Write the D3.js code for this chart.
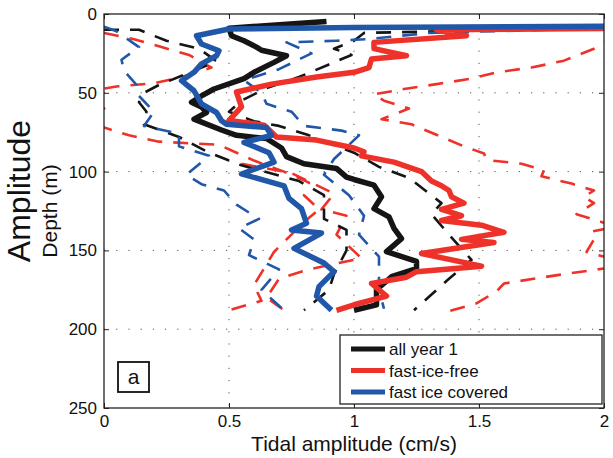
<!DOCTYPE html>
<html>
<head>
<meta charset="utf-8">
<script src="https://cdn.jsdelivr.net/npm/d3@7"></script>
<style>
body { margin: 0; background: #fff; }
text { font-family: "Liberation Sans", Arial, sans-serif; fill: #111; }
</style>
</head>
<body>
<svg width="613" height="458"></svg>
<script>
// tick labels
var xTicks = [0, 0.5, 1, 1.5, 2];
var yTicks = [0, 50, 100, 150, 200, 250];

// thick mean profiles, [amplitude cm/s, depth m]
var allYear = [[0.89,4.7],[0.50,9],[0.51,13.8],[0.56,17],[0.61,21],[0.63,23],[0.73,26.5],[0.68,30.7],[0.60,37],[0.56,41],
  [0.44,47.6],[0.39,52],[0.35,56],[0.39,59],[0.41,62.5],[0.36,66.7],[0.47,73.6],[0.53,77],[0.65,79],[0.71,85],
  [0.73,90.5],[0.80,95],[0.93,98],[0.97,103.5],[1.0,105],[1.08,108.6],[1.11,116],[1.08,123.5],[1.14,128.7],[1.16,136],
  [1.19,142.5],[1.13,150.8],[1.25,157],[1.25,161.5],[1.15,166.7],[1.09,175],[1.09,184.6],[1.0,188]];
var iceFree = [[2.5,8.5],[1.33,10],[1.45,13.8],[1.08,18],[1.08,22],[1.21,26.5],[1.07,28.5],[1.06,34],[1.0,37],[0.85,40],
  [0.67,44.5],[0.53,49.5],[0.55,59],[0.50,67.5],[0.64,70.5],[0.69,78],[0.85,80],[1.0,85],[1.04,87.4],[1.03,90],
  [1.16,94],[1.27,100],[1.31,106],[1.35,109],[1.38,112],[1.39,116],[1.44,120],[1.35,124],[1.43,128],[1.35,131],
  [1.51,134],[1.60,138.5],[1.43,143],[1.56,145],[1.27,152],[1.51,160],[1.25,163.5],[1.21,167],[1.07,171],[1.13,179],
  [1.0,184.5],[0.93,188]];
var iceCovered = [[2.5,7.5],[1.0,8.5],[0.50,9.5],[0.37,13.8],[0.39,19],[0.46,23.3],[0.45,26.5],[0.39,31.7],[0.36,37],[0.31,42.3],
  [0.36,48.7],[0.39,57],[0.45,62.5],[0.47,67.7],[0.49,70],[0.65,72],[0.67,77],[0.56,81.5],[0.66,88],[0.68,94],
  [0.55,101.5],[0.72,109],[0.74,117],[0.79,123.5],[0.81,132.8],[0.75,137],[0.87,139],[0.76,148.7],[0.88,158],[0.92,163.5],
  [0.86,173],[0.85,179],[0.91,188]];

// dashed individual profiles
var dashBlack = [
  [[0.0,10],[0.14,10],[0.25,17],[0.38,22],[0.45,30],[0.33,38],[0.22,45],[0.16,50],[0.14,56],[0.17,62],[0.16,70],[0.3,78],
   [0.42,88],[0.55,96],[0.78,106],[0.88,115],[0.88,130],[0.97,137],[0.97,150],[0.92,165],[0.9,175],[0.8,188]],
  [[2.5,7],[1.04,12],[1.0,17],[0.92,22],[0.99,26],[0.9,32],[0.78,40],[0.65,47],[0.55,55],[0.5,62],[0.6,68],[0.7,71],
   [0.82,77],[1.0,88],[1.1,97],[1.22,104],[1.35,120],[1.31,127],[1.38,140],[1.47,156],[1.38,168],[1.31,178],[1.24,188]]
];
var dashRed = [
  [[1.3,9.5],[2.2,9],[2.3,15],[2.0,18],[1.96,22],[1.84,29.6],[1.71,34],[1.57,37],[1.47,41],[1.33,44.5],[1.2,47.6],
   [1.08,51],[1.12,55],[1.22,60],[1.11,66.7],[1.23,70],[1.44,84],[1.52,88.5],[1.53,92.6],[1.67,95],[1.76,99],[1.75,103],
   [1.87,107.6],[1.96,112],[1.92,116],[1.96,120],[1.89,127],[2.05,135],[1.95,138],[1.96,143],[1.93,151],[2.05,156],
   [2.02,161],[1.8,166],[1.6,171],[1.57,176],[1.49,183.6],[1.37,189]],
  [[0.0,12],[0.12,16],[0.23,21],[0.34,26],[0.43,34],[0.31,40],[0.2,44],[0.05,46],[-0.1,50],[0.02,58],[-0.05,65],[0.0,72],
   [0.1,77],[0.22,81],[0.46,83],[0.6,93],[0.72,100],[0.82,107],[0.8,115],[0.86,124],[0.8,132],[0.68,151],[0.6,172],
   [0.63,182],[0.5,188]],
  [[0.55,95],[0.75,101],[0.83,107],[0.92,114],[0.87,124],[0.97,128],[0.93,140],[1.03,155],[0.82,162],[0.7,168],
   [0.65,180],[0.72,188]]
];
var dashBlue = [
  [[0.0,8],[0.05,11],[0.14,21],[0.07,29],[0.08,36],[0.13,45],[0.14,52],[0.2,62],[0.16,71],[0.3,76],[0.3,84],[0.42,90],
   [0.33,102],[0.39,108],[0.48,112],[0.53,121],[0.62,130],[0.54,136],[0.6,143],[0.58,153],[0.7,162],[0.63,175],[0.72,188]],
  [[2.5,7],[1.3,12],[1.05,16],[0.93,17],[0.73,18],[0.83,25],[0.7,35],[0.56,42],[0.63,50],[0.65,57],[0.75,62],[0.8,71],
   [0.95,74],[1.02,77],[0.92,92],[0.88,102],[0.98,115],[1.04,128],[1.02,140],[1.1,154],[1.1,165],[1.1,175],[1.12,187]]
];

var legendNames = ["all year 1", "fast-ice-free", "fast ice covered"];

function draw() {
  var black = "#151515", red = "#ee3129", blue = "#2157a8";
  var svg = d3.select("svg");
  var pl = 104, pr = 604, pt = 14, pb = 408;

  var x = d3.scaleLinear().domain([0, 2]).range([pl, pr]);
  var y = d3.scaleLinear().domain([0, 250]).range([pt, pb]);

  svg.append("defs").append("clipPath").attr("id", "plotclip")
    .append("rect").attr("x", pl).attr("y", pt).attr("width", pr - pl).attr("height", pb - pt);

  // dotted grid
  var grid = svg.append("g");
  grid.selectAll(".gx").data(xTicks.slice(1, -1)).enter().append("line")
    .attr("x1", d => x(d)).attr("x2", d => x(d)).attr("y1", pt).attr("y2", pb)
    .attr("stroke", "#555").attr("stroke-width", 1).attr("stroke-dasharray", "1.2,11");
  grid.selectAll(".gy").data(yTicks.slice(1, -1)).enter().append("line")
    .attr("y1", d => y(d)).attr("y2", d => y(d)).attr("x1", pl).attr("x2", pr)
    .attr("stroke", "#555").attr("stroke-width", 1).attr("stroke-dasharray", "1.2,11");

  var line = d3.line().x(d => x(d[0])).y(d => y(d[1]));
  var plot = svg.append("g").attr("clip-path", "url(#plotclip)");

  function dashed(arr, col) {
    arr.forEach(function(p) {
      plot.append("path").attr("d", line(p)).attr("fill", "none")
        .attr("stroke", col).attr("stroke-width", 2.6).attr("stroke-dasharray", "15,11")
        .attr("stroke-linejoin", "round");
    });
  }
  dashed(dashRed, red);
  dashed(dashBlack, black);
  dashed(dashBlue, blue);

  [[allYear, black], [iceFree, red], [iceCovered, blue]].forEach(function(s) {
    plot.append("path").attr("d", line(s[0])).attr("fill", "none")
      .attr("stroke", s[1]).attr("stroke-width", 5.5).attr("stroke-linejoin", "round");
  });

  // axes with inward ticks
  svg.append("g").attr("transform", "translate(0," + pb + ")")
    .call(d3.axisBottom(x).tickValues(xTicks).tickSize(-5).tickSizeOuter(0).tickPadding(7).tickFormat(d => String(d)));
  svg.append("g").attr("transform", "translate(" + pl + ",0)")
    .call(d3.axisLeft(y).tickValues(yTicks).tickSize(-5).tickSizeOuter(0).tickPadding(7).tickFormat(d => String(d)));
  svg.append("g").attr("transform", "translate(0," + pt + ")")
    .call(d3.axisTop(x).tickValues(xTicks).tickSize(-5).tickSizeOuter(0).tickFormat(""));
  svg.append("g").attr("transform", "translate(" + pr + ",0)")
    .call(d3.axisRight(y).tickValues(yTicks).tickSize(-5).tickSizeOuter(0).tickFormat(""));
  svg.selectAll(".tick text").attr("font-size", 17).attr("font-family", "Liberation Sans, Arial, sans-serif").attr("fill", "#111");
  svg.selectAll(".domain").remove();
  svg.selectAll(".tick line").attr("stroke", "#222");

  svg.append("rect").attr("x", pl).attr("y", pt).attr("width", pr - pl).attr("height", pb - pt)
    .attr("fill", "none").attr("stroke", "#222").attr("stroke-width", 1.3);

  // labels
  svg.append("text").attr("x", (pl + pr) / 2).attr("y", 451).attr("text-anchor", "middle")
    .attr("font-size", 21).text("Tidal amplitude (cm/s)");
  svg.append("text").attr("transform", "translate(57,211) rotate(-90)").attr("text-anchor", "middle")
    .attr("font-size", 21).text("Depth (m)");
  svg.append("text").attr("transform", "translate(30,191) rotate(-90)").attr("text-anchor", "middle")
    .attr("font-size", 32).text("Amplitude");

  // legend
  var lg = svg.append("g");
  lg.append("rect").attr("x", 340).attr("y", 335).attr("width", 262).attr("height", 69)
    .attr("fill", "#fff").attr("stroke", "#222").attr("stroke-width", 1.3);
  [black, red, blue].forEach(function(c, i) {
    var yy = 349 + i * 21.5;
    lg.append("line").attr("x1", 351).attr("x2", 385).attr("y1", yy).attr("y2", yy)
      .attr("stroke", c).attr("stroke-width", 5);
    lg.append("text").attr("x", 389).attr("y", yy + 6).attr("font-size", 17).text(legendNames[i]);
  });

  // panel letter
  svg.append("rect").attr("x", 118).attr("y", 362).attr("width", 31).attr("height", 30)
    .attr("fill", "#fff").attr("stroke", "#111").attr("stroke-width", 1.8);
  svg.append("text").attr("x", 133.5).attr("y", 384).attr("text-anchor", "middle").attr("font-size", 21).text("a");
}
draw();
</script>
</body>
</html>
